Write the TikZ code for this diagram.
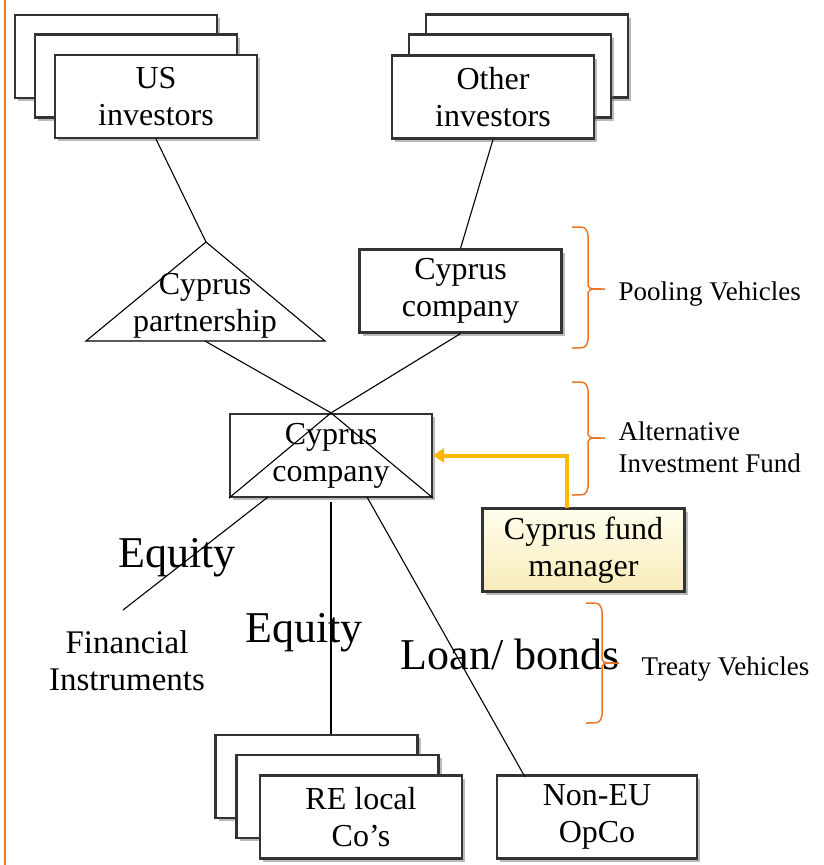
\documentclass[tikz,border=0pt]{standalone}
\usepackage{fontspec}
\setmainfont{Liberation Serif}
\usetikzlibrary{shadows,arrows.meta}

\definecolor{bracecol}{RGB}{232,120,40}
\definecolor{arrowgold}{RGB}{255,183,0}
\definecolor{fundtop}{RGB}{255,253,236}
\definecolor{fundbot}{RGB}{249,236,186}

% flat right brace: x of ends, top y, bottom y, tip y
\newcommand{\sidebrace}[4]{%
  \draw[bracecol, line width=1.5pt]
    (#1,#2) .. controls (#1+14,#2) .. (#1+16,#2+8) -- (#1+16,#4-7)
    .. controls (#1+16,#4) .. (#1+33,#4)
    (#1+33,#4) .. controls (#1+16,#4) .. (#1+16,#4+7) -- (#1+16,#3-8)
    .. controls (#1+14,#3) .. (#1,#3);}

\tikzset{
  entity/.style={draw=black!80, line width=2.2pt, fill=white,
    minimum width=202pt, minimum height=83pt, inner sep=0pt, align=center,
    font=\fontsize{32}{37}\selectfont,
    drop shadow={shadow xshift=3pt, shadow yshift=-3pt, opacity=0.45, fill=black!60}},
  link/.style={line width=1.1pt},
  bignote/.style={font=\fontsize{44}{50}\selectfont},
  sidenote/.style={font=\fontsize{27}{32}\selectfont, align=left},
}

\begin{document}
\begin{tikzpicture}[x=1pt,y=-1pt]
\useasboundingbox (0,0) rectangle (823,865);

\draw[bracecol, line width=1.5pt] (5,0) -- (5,865);

% investors
\node[entity] (usC) at (116,56.5) {};
\node[entity] (usB) at (136,76) {};
\node[entity] (usA) at (156,96.5) {US\\investors};

\node[entity] (othC) at (527,56) {};
\node[entity] (othB) at (510,76) {};
\node[entity] (othA) at (493,97) {Other\\investors};

% pooling vehicles
\coordinate (ptop) at (206,242);
\coordinate (pleft) at (86,341);
\coordinate (pright) at (325,341);
\coordinate (pbase) at (205,341);
\draw[link, fill=white] (ptop) -- (pleft) -- (pright) -- cycle;
\node[font=\fontsize{32}{37}\selectfont, align=center] (partner) at (205,306) {Cyprus\\partnership};

\node[entity] (pool) at (460.5,291) {Cyprus\\company};

\draw[link] (usA.south) -- (ptop);
\draw[link] (othA.south) -- (pool.north);

% fund
\node[entity] (main) at (331,455.5) {Cyprus\\company};
\draw[link] (pbase) -- (main.north);
\draw[link] (pool.south) -- (main.north);
\draw[link] (main.north) -- (main.south west);
\draw[link] (main.north) -- (main.south east);

\node[entity, top color=fundtop, bottom color=fundbot] (fund) at (583.5,550) {Cyprus fund\\manager};
\coordinate (armstart) at (567,508);
\draw[arrowgold, line width=4pt, -{Triangle[width=14pt,length=11pt]}] (armstart) |- (main.east);

% treaty vehicles
\node[entity] (reC) at (316.5,776.5) {};
\node[entity] (reB) at (337.5,796.5) {};
\node[entity] (reA) at (361,817) {RE local\\Co’s};
\node[entity, minimum width=200pt] (opco) at (597,817) {Non-EU\\OpCo};

\coordinate (eqstart) at (268,497);
\coordinate (fiend) at (123,610);
\coordinate (vstart) at (331,502);
\coordinate (lnstart) at (367,497);
\coordinate (lnend) at (525,777);
\draw[link] (eqstart) -- (fiend);
\draw[link] (vstart) -- (reC.north -| vstart);
\draw[link] (lnstart) -- (lnend);

\node[font=\fontsize{33}{37}\selectfont, align=center] (finstr) at (127,661) {Financial\\Instruments};
\node[bignote, anchor=base] (eqA) at (177,567) {Equity};
\node[bignote, anchor=base] (eqB) at (304,642) {Equity};
\node[bignote, anchor=base] (loan) at (510,669) {Loan/ bonds};

% braces
\sidebrace{572}{227}{348}{289}
\sidebrace{572}{382}{495}{438}
\sidebrace{586}{603}{723}{663}
\node[sidenote, anchor=base west] (poolnote) at (615,300) {Pooling Vehicles};
\node[sidenote, anchor=west] (aifnote) at (615,447) {Alternative\\Investment Fund};
\node[sidenote, anchor=base west] (treatynote) at (638,675) {Treaty Vehicles};
\end{tikzpicture}
\end{document}
